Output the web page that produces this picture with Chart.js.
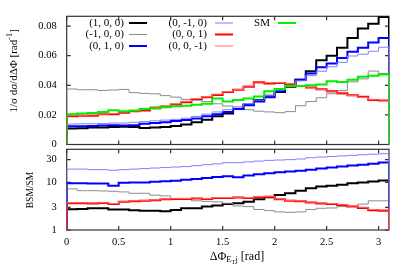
<!DOCTYPE html>
<html><head><meta charset="utf-8">
<script src="https://cdn.jsdelivr.net/npm/chart.js@4"></script>
<style>
html,body{margin:0;padding:0;background:#fff;}
#wrap{position:relative;width:415px;height:266px;overflow:hidden;}
canvas{position:absolute;left:0;top:0;}
</style></head><body>
<div id="wrap"><canvas id="cTop" width="415" height="266"></canvas><canvas id="cBot" width="415" height="266"></canvas></div>
<script>
// ---- data ----
const binEdges = [0,0.1,0.2,0.3,0.4,0.5,0.6,0.7,0.8,0.9,1.0,1.1,1.2,1.3,1.4,1.5,1.6,1.7,1.8,1.9,2.0,2.1,2.2,2.3,2.4,2.5,2.6,2.7,2.8,2.9,3.0,3.1];
const seriesLabels = ['(1, 0, 0)','(-1, 0, 0)','(0, 1, 0)','(0, -1, 0)','(0, 0, 1)','(0, 0, -1)','SM'];
const xTicks = [0,0.5,1,1.5,2,2.5,3];
const topYTicks = [0,0.02,0.04,0.06,0.08];
const botYTicks = [1,3,10,30];

// normalized distributions 1/sigma dsigma/dDeltaPhi
const distP100 = [0.0108,0.0110,0.0115,0.0115,0.0118,0.0120,0.0118,0.0112,0.0115,0.0118,0.0125,0.0135,0.0150,0.0168,0.0190,0.0210,0.0240,0.0270,0.0300,0.0330,0.0355,0.0390,0.0437,0.0494,0.0569,0.0599,0.0653,0.0720,0.0783,0.0815,0.0862];
const distM100 = [0.0375,0.0370,0.0370,0.0365,0.0368,0.0372,0.0350,0.0345,0.0342,0.0330,0.0320,0.0305,0.0300,0.0290,0.0275,0.0260,0.0245,0.0235,0.0225,0.0220,0.0215,0.0222,0.0262,0.0290,0.0316,0.0343,0.0364,0.0423,0.0443,0.0496,0.0480];
const distP010 = [0.0123,0.0123,0.0125,0.0128,0.0130,0.0128,0.0130,0.0140,0.0145,0.0150,0.0158,0.0165,0.0175,0.0190,0.0205,0.0220,0.0240,0.0265,0.0290,0.0320,0.0360,0.0406,0.0437,0.0479,0.0521,0.0548,0.0584,0.0626,0.0653,0.0689,0.0720];
const distM010 = [0.0138,0.0140,0.0140,0.0142,0.0145,0.0145,0.0150,0.0155,0.0160,0.0165,0.0170,0.0178,0.0190,0.0205,0.0220,0.0235,0.0255,0.0275,0.0300,0.0330,0.0370,0.0405,0.0430,0.0465,0.0495,0.0525,0.0555,0.0598,0.0610,0.0630,0.0657];
const distP001 = [0.0190,0.0195,0.0195,0.0205,0.0205,0.0215,0.0225,0.0230,0.0245,0.0255,0.0270,0.0285,0.0305,0.0320,0.0335,0.0355,0.0370,0.0390,0.0420,0.0412,0.0415,0.0406,0.0395,0.0385,0.0374,0.0360,0.0346,0.0332,0.0322,0.0301,0.0297];
const distM001 = [0.0195,0.0198,0.0200,0.0205,0.0210,0.0220,0.0228,0.0238,0.0255,0.0262,0.0275,0.0292,0.0310,0.0322,0.0340,0.0358,0.0372,0.0395,0.0415,0.0418,0.0418,0.0410,0.0398,0.0382,0.0370,0.0355,0.0340,0.0330,0.0318,0.0305,0.0300];
const distSM   = [0.0205,0.0210,0.0212,0.0220,0.0232,0.0225,0.0230,0.0240,0.0245,0.0252,0.0258,0.0262,0.0268,0.0275,0.0310,0.0290,0.0300,0.0310,0.0325,0.0360,0.0375,0.0395,0.0395,0.0400,0.0406,0.0427,0.0423,0.0437,0.0458,0.0465,0.0473];

// BSM/SM ratios
const ratioP100 = [2.73,2.75,2.85,2.85,2.70,2.70,2.60,2.55,2.55,2.47,2.64,2.86,2.86,3.10,3.25,3.52,3.65,3.94,4.42,4.87,5.45,5.90,6.70,7.50,8.20,8.50,8.90,9.60,9.90,10.4,10.9];
const ratioM100 = [7.3,6.7,6.7,6.6,6.5,6.3,5.9,5.9,5.4,5.2,4.6,4.4,4.1,4.0,3.9,3.65,3.2,3.1,2.7,2.55,2.4,2.35,2.4,2.7,2.86,2.9,3.1,3.15,3.5,4.1,4.1];
const ratioP010 = [9.6,9.6,9.5,9.5,8.5,9.8,9.9,10.0,10.3,10.5,10.8,11.3,11.8,12.3,13.0,13.5,12.8,14.0,14.8,15.5,16.3,16.9,17.5,18.5,19.5,20.5,21.5,22.5,23.5,24.5,26.0];
const ratioM010 = [19.0,19.0,18.5,18.5,18.0,18.5,19.0,19.5,20.0,20.5,21.0,21.5,22.5,23.5,24.5,26.0,26.0,27.0,28.0,29.0,29.5,30.0,31.0,33.0,34.0,35.0,36.0,37.0,38.0,39.0,40.0];
const ratioP001 = [3.65,3.65,3.60,3.70,3.50,3.90,4.00,4.10,4.20,4.40,4.50,4.50,4.60,4.50,4.70,4.70,4.80,4.70,4.90,5.00,4.40,4.10,4.00,3.76,3.60,3.52,3.36,3.10,2.90,2.60,2.55];
const ratioM001 = [3.75,3.75,3.70,3.80,3.60,4.00,4.10,4.20,4.30,4.50,4.60,4.60,4.70,4.60,4.80,4.80,4.90,4.80,5.00,5.10,4.50,4.20,4.10,3.85,3.70,3.60,3.45,3.20,3.00,2.70,2.65];

// ---- styles ----
const colors = ['#000000','#8c8c8c','#0000ff','#8080ff','#ff0000','#ff6a6a','#00ee00'];
const widths = [2,1,2,1,2,1,2];
const SERIF = '"Liberation Serif","DejaVu Serif",serif';

function stepPoints(vals, base){
  const pts=[{x:binEdges[0],y:base}];
  vals.forEach((v,i)=>pts.push({x:binEdges[i],y:v}));
  pts.push({x:binEdges[vals.length],y:base});
  return pts;
}
function makeDatasets(arrs, base){
  return arrs.map((a,i)=>({
    label: seriesLabels[i], data: stepPoints(a, base), stepped: 'before',
    borderColor: colors[i], backgroundColor: colors[i], borderWidth: widths[i],
    pointRadius: 0, fill: false, order: arrs.length - i
  }));
}

const framePlugin = {
  id:'frame',
  beforeDatasetsDraw(chart, args, opts){
    const {ctx, chartArea:a, scales} = chart;
    ctx.save();
    ctx.strokeStyle='#333'; ctx.lineWidth=1.2;
    ctx.strokeRect(a.left, a.top, a.right-a.left, a.bottom-a.top);
    const L=4;
    ctx.beginPath();
    opts.xTicks.forEach(v=>{const x=scales.x.getPixelForValue(v); ctx.moveTo(x,a.bottom); ctx.lineTo(x,a.bottom-L); ctx.moveTo(x,a.top); ctx.lineTo(x,a.top+L);});
    opts.yTicks.forEach(v=>{const y=scales.y.getPixelForValue(v); ctx.moveTo(a.left,y); ctx.lineTo(a.left+L,y); ctx.moveTo(a.right,y); ctx.lineTo(a.right-L,y);});
    ctx.stroke(); ctx.restore();
  }
};

function drawPieces(ctx, pieces, cx, cy){
  let w=0;
  pieces.forEach(p=>{ctx.font=p[1]+'px '+SERIF; w+=ctx.measureText(p[0]).width;});
  let x=cx-w/2;
  pieces.forEach(p=>{ctx.font=p[1]+'px '+SERIF; ctx.fillText(p[0], x, cy+p[2]); x+=ctx.measureText(p[0]).width;});
}

const legendPos = [
  {tx:124,lx:129,y:23},{tx:124,lx:129,y:34.5},{tx:124,lx:129,y:46},
  {tx:207,lx:215,y:23},{tx:207,lx:215,y:34.5},{tx:207,lx:215,y:46},
  {tx:270,lx:278,y:23}
];
const topDecor = {
  id:'topDecor',
  afterDraw(chart){
    const ctx=chart.ctx;
    ctx.save();
    ctx.fillStyle='#000';
    ctx.textBaseline='middle';
    ctx.font='11px '+SERIF; ctx.textAlign='right';
    chart.data.datasets.forEach((ds,i)=>{
      const p=legendPos[i];
      ctx.fillStyle='#000';
      ctx.fillText(ds.label, p.tx, p.y);
      ctx.strokeStyle=ds.borderColor; ctx.lineWidth=ds.borderWidth;
      ctx.beginPath(); ctx.moveTo(p.lx,p.y); ctx.lineTo(p.lx+18,p.y); ctx.stroke();
    });
    ctx.textAlign='left'; ctx.fillStyle='#000';
    ctx.translate(14,71); ctx.rotate(-Math.PI/2);
    drawPieces(ctx, [['1/σ dσ/dΔΦ [rad',11,0],['-1',8,-4],[']',11,0]], 0, 0);
    ctx.restore();
  }
};
const botDecor = {
  id:'botDecor',
  afterDraw(chart){
    const ctx=chart.ctx;
    ctx.save();
    ctx.fillStyle='#000'; ctx.textBaseline='middle'; ctx.textAlign='left';
    drawPieces(ctx, [['ΔΦ',12,0],['E',8.5,3],['T',6.5,5],['j',8.5,3],[' [rad]',12,0]], 237, 257);
    ctx.translate(30,190); ctx.rotate(-Math.PI/2);
    ctx.textAlign='left';
    drawPieces(ctx, [['BSM/SM',9.5,0]], 0, 0);
    ctx.restore();
  }
};

const tickFont = {family: SERIF, size: 10.5};

new Chart(document.getElementById('cTop'), {
  type:'line',
  data:{datasets: makeDatasets([distP100,distM100,distP010,distM010,distP001,distM001,distSM], 0)},
  options:{
    responsive:false, animation:false, events:[],
    layout:{padding:{left:0,top:6.7,right:26,bottom:121.5}},
    plugins:{legend:{display:false}, tooltip:{enabled:false}, frame:{xTicks:xTicks,yTicks:topYTicks}},
    scales:{
      x:{type:'linear', display:false, min:0, max:3.1},
      y:{type:'linear', min:0, max:0.0866,
        afterBuildTicks:s=>{s.ticks=topYTicks.map(v=>({value:v}));},
        afterFit:s=>{s.width=66.7;},
        grid:{display:false, drawTicks:false}, border:{display:false},
        ticks:{font:tickFont, color:'#000', padding:10, callback:v=>v===0?'0':v.toFixed(2)}}
    }
  },
  plugins:[framePlugin, topDecor]
});

new Chart(document.getElementById('cBot'), {
  type:'line',
  data:{datasets: makeDatasets([ratioP100,ratioM100,ratioP010,ratioM010,ratioP001,ratioM001], 1)},
  options:{
    responsive:false, animation:false, events:[],
    layout:{padding:{left:0,top:149.3,right:26,bottom:0}},
    plugins:{legend:{display:false}, tooltip:{enabled:false}, frame:{xTicks:xTicks,yTicks:botYTicks}},
    scales:{
      x:{type:'linear', min:0, max:3.1,
        afterBuildTicks:s=>{s.ticks=xTicks.map(v=>({value:v}));},
        afterFit:s=>{s.height=36;},
        grid:{display:false, drawTicks:false}, border:{display:false},
        ticks:{font:tickFont, color:'#000', padding:6, autoSkip:false, maxRotation:0, callback:v=>String(v)}},
      y:{type:'logarithmic', min:1, max:49.5,
        afterBuildTicks:s=>{s.ticks=botYTicks.map(v=>({value:v}));},
        afterFit:s=>{s.width=66.7;},
        grid:{display:false, drawTicks:false}, border:{display:false},
        ticks:{font:tickFont, color:'#000', padding:10, callback:v=>String(v)}}
    }
  },
  plugins:[framePlugin, botDecor]
});
</script>
</body></html>
